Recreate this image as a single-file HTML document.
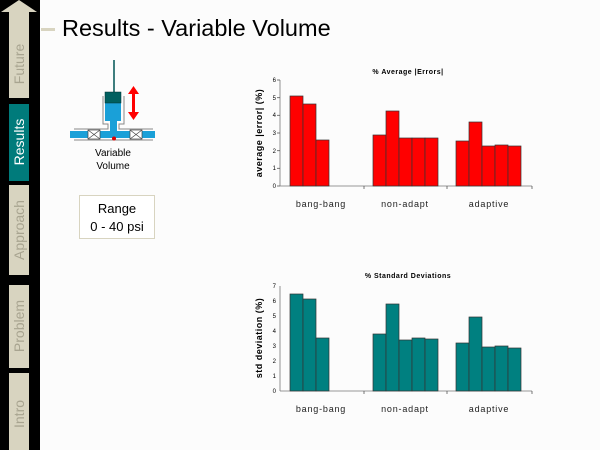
<!DOCTYPE html>
<html><head><style>
body{margin:0;width:600px;height:450px;background:#fcfcfc;overflow:hidden;position:relative;font-family:"Liberation Sans",sans-serif}
</style></head><body>
<svg width="600" height="450" style="position:absolute;left:0;top:0" font-family="Liberation Sans, sans-serif">
<rect x="0" y="0" width="40" height="450" fill="#000"/>
<polygon points="9,98 9,12 1,12 19,0 37,12 29,12 29,98" fill="#d8d4c0"/>
<rect x="9" y="104" width="20" height="77" fill="#007b7b"/>
<rect x="9" y="185" width="20" height="90" fill="#d8d4c0"/>
<rect x="9" y="285" width="20" height="83" fill="#d8d4c0"/>
<rect x="9" y="373" width="20" height="77" fill="#d8d4c0"/>
<g font-size="14" fill="#a8a490">
<text transform="translate(24,64) rotate(-90)" text-anchor="middle">Future</text>
<text transform="translate(24,142) rotate(-90)" text-anchor="middle" fill="#fff">Results</text>
<text transform="translate(24,230) rotate(-90)" text-anchor="middle">Approach</text>
<text transform="translate(24,326) rotate(-90)" text-anchor="middle">Problem</text>
<text transform="translate(24,414) rotate(-90)" text-anchor="middle">Intro</text>
</g>
<rect x="41" y="28" width="14" height="3" fill="#d8d4c0"/>
<text x="62" y="36" font-size="23.5" fill="#000">Results - Variable Volume</text>
<line x1="114" y1="60" x2="114" y2="92" stroke="#005555" stroke-width="1.5"/>
<polyline points="103,96 103,124 108,124 108,129 74,129" fill="none" stroke="#888"/>
<polyline points="124,96 124,124 119,124 119,129 153,129" fill="none" stroke="#888"/>
<line x1="74" y1="140" x2="153" y2="140" stroke="#888"/>
<rect x="105" y="103" width="16" height="18" fill="#1aa0d8"/>
<rect x="110" y="120" width="7" height="12" fill="#1aa0d8"/>
<rect x="70" y="131" width="85" height="7" fill="#1aa0d8"/>
<rect x="105" y="92" width="16" height="11" fill="#005f5f" stroke="#003030" stroke-width="0.5"/>
<g stroke="#444" stroke-width="0.7" fill="#fff">
<rect x="88" y="130" width="12" height="9"/><path d="M88,130L100,139M100,130L88,139"/>
<rect x="130" y="130" width="12" height="9"/><path d="M130,130L142,139M142,130L130,139"/>
</g>
<circle cx="114" cy="138.5" r="2" fill="#d00"/>
<rect x="132" y="93" width="3" height="20" fill="#f00"/>
<polygon points="128,94 133.5,86 139,94" fill="#f00"/>
<polygon points="128,112 133.5,120 139,112" fill="#f00"/>
<text x="113" y="156" font-size="10" text-anchor="middle">Variable</text>
<text x="113" y="169" font-size="10" text-anchor="middle">Volume</text>
<rect x="79.5" y="195.5" width="75" height="43" fill="#fff" stroke="#d8d4c0"/>
<text x="117" y="213" font-size="13" text-anchor="middle">Range</text>
<text x="117" y="231" font-size="13" text-anchor="middle">0 - 40 psi</text>
<text x="408" y="74" font-size="7" font-weight="bold" text-anchor="middle" letter-spacing="0.5">% Average |Errors|</text>
<g stroke="#777" stroke-width="0.8">
<line x1="280" y1="80" x2="280" y2="186"/><line x1="280" y1="186" x2="532" y2="186"/>
</g>
<g font-size="6" text-anchor="end" fill="#000">
<text x="276" y="188">0</text><text x="276" y="170">1</text><text x="276" y="153">2</text><text x="276" y="135">3</text><text x="276" y="117">4</text><text x="276" y="100">5</text><text x="276" y="82">6</text>
</g>
<g stroke="#555" stroke-width="0.8"><line x1="277" y1="186" x2="280" y2="186"/><line x1="277" y1="168.3" x2="280" y2="168.3"/><line x1="277" y1="150.7" x2="280" y2="150.7"/><line x1="277" y1="133" x2="280" y2="133"/><line x1="277" y1="115.3" x2="280" y2="115.3"/><line x1="277" y1="97.7" x2="280" y2="97.7"/><line x1="277" y1="80" x2="280" y2="80"/>
<line x1="364" y1="186" x2="364" y2="189"/><line x1="447" y1="186" x2="447" y2="189"/><line x1="532" y1="186" x2="532" y2="189"/></g>
<g fill="#f00" stroke="#333" stroke-width="0.7">
<rect x="290" y="96" width="13" height="90"/><rect x="303" y="104" width="13" height="82"/><rect x="316" y="140" width="13" height="46"/>
<rect x="373" y="135" width="13" height="51"/><rect x="386" y="111" width="13" height="75"/><rect x="399" y="138" width="13" height="48"/><rect x="412" y="138" width="13" height="48"/><rect x="425" y="138" width="13" height="48"/>
<rect x="456" y="141" width="13" height="45"/><rect x="469" y="122" width="13" height="64"/><rect x="482" y="146" width="13" height="40"/><rect x="495" y="145" width="13" height="41"/><rect x="508" y="146" width="13" height="40"/>
</g>
<text transform="translate(262,133) rotate(-90)" font-size="9" font-weight="bold" text-anchor="middle" letter-spacing="0.5">average |error| (%)</text>
<g font-size="9" text-anchor="middle" letter-spacing="0.8" fill="#222">
<text x="321" y="207">bang-bang</text><text x="405" y="207">non-adapt</text><text x="489" y="207">adaptive</text>
</g>
<text x="408" y="278" font-size="7" font-weight="bold" text-anchor="middle" letter-spacing="0.5">% Standard Deviations</text>
<g stroke="#777" stroke-width="0.8"><line x1="280" y1="286" x2="280" y2="391"/><line x1="280" y1="391" x2="532" y2="391"/></g>
<g font-size="6" text-anchor="end">
<text x="276" y="393">0</text><text x="276" y="378">1</text><text x="276" y="363">2</text><text x="276" y="348">3</text><text x="276" y="333">4</text><text x="276" y="318">5</text><text x="276" y="303">6</text><text x="276" y="288">7</text>
</g>
<g stroke="#555" stroke-width="0.8"><line x1="364" y1="391" x2="364" y2="394"/><line x1="447" y1="391" x2="447" y2="394"/><line x1="532" y1="391" x2="532" y2="394"/></g>
<g fill="#008080" stroke="#333" stroke-width="0.7">
<rect x="290" y="294" width="13" height="97"/><rect x="303" y="299" width="13" height="92"/><rect x="316" y="338" width="13" height="53"/>
<rect x="373" y="334" width="13" height="57"/><rect x="386" y="304" width="13" height="87"/><rect x="399" y="340" width="13" height="51"/><rect x="412" y="338" width="13" height="53"/><rect x="425" y="339" width="13" height="52"/>
<rect x="456" y="343" width="13" height="48"/><rect x="469" y="317" width="13" height="74"/><rect x="482" y="347" width="13" height="44"/><rect x="495" y="346" width="13" height="45"/><rect x="508" y="348" width="13" height="43"/>
</g>
<text transform="translate(262,338) rotate(-90)" font-size="9" font-weight="bold" text-anchor="middle" letter-spacing="0.5">std deviation (%)</text>
<g font-size="9" text-anchor="middle" letter-spacing="0.8" fill="#222">
<text x="321" y="412">bang-bang</text><text x="405" y="412">non-adapt</text><text x="489" y="412">adaptive</text>
</g>
</svg>
</body></html>
